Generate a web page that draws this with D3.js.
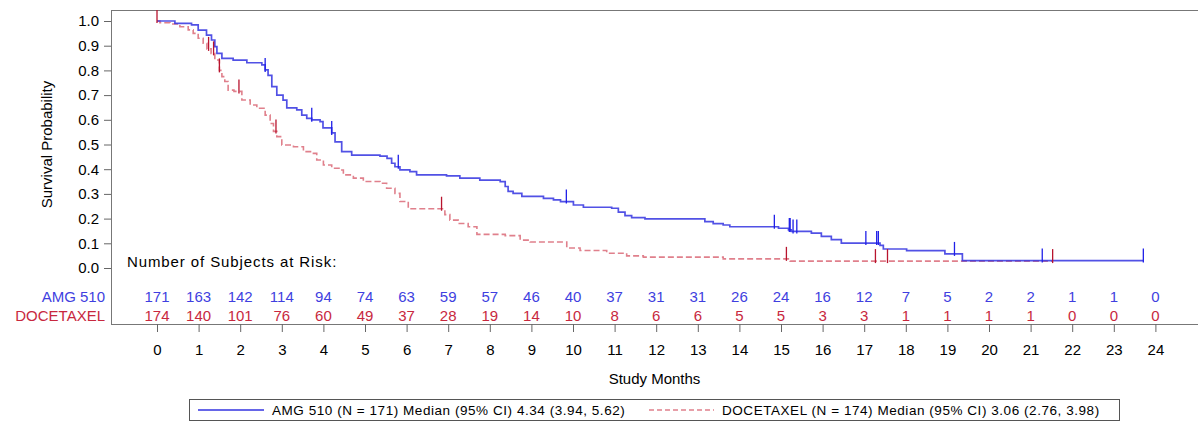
<!DOCTYPE html>
<html lang="en">
<head>
<meta charset="UTF-8">
<title>Kaplan-Meier</title>
<script src="https://d3js.org/d3.v7.min.js"></script>
<style>
    body, html {
        margin: 0;
        background: #fff;
        font-family: 'Liberation Sans', Arial, sans-serif;
    }
    .axis text { font-size: 15px; fill: #000; }
    .axis line { stroke: #666; }
    .legend-text { font-size: 13.5px; letter-spacing: 0.55px; }
</style>
</head>
<body>
<svg id="chart" width="1198" height="423"></svg>
<script>
    // step times (months) and survival after each step
    const amgTimes = [0, 0.43, 0.83, 0.99, 1.19, 1.31, 1.39, 1.44, 1.56, 1.83, 2.16, 2.52, 2.60, 2.67, 2.76, 2.88,
        3.03, 3.12, 3.36, 3.48, 3.60, 3.72, 3.92, 3.99, 4.20, 4.28, 4.44, 4.68, 5.36, 5.53, 5.64, 5.72, 5.84,
        6.08, 6.24, 6.96, 7.28, 7.76, 8.25, 8.37, 8.44, 8.56, 8.77, 9.29, 9.53, 9.70, 10.01, 10.25, 10.93,
        11.09, 11.25, 11.41, 11.73, 13.17, 13.37, 13.61, 13.77, 14.94, 15.18, 15.25, 15.73, 15.97, 16.21,
        16.45, 17.38, 17.46, 18.02, 18.94, 19.36];
    const amgSurv = [1.0, 0.99, 0.984, 0.963, 0.943, 0.923, 0.896, 0.869, 0.849, 0.842, 0.831, 0.822, 0.802, 0.78, 0.734, 0.70,
        0.68, 0.648, 0.64, 0.619, 0.606, 0.60, 0.593, 0.567, 0.547, 0.511, 0.471, 0.457, 0.453, 0.444, 0.424, 0.41, 0.397,
        0.39, 0.377, 0.373, 0.364, 0.356, 0.35, 0.33, 0.31, 0.302, 0.29, 0.282, 0.276, 0.269, 0.255, 0.246, 0.242,
        0.226, 0.212, 0.204, 0.199, 0.188, 0.18, 0.174, 0.167, 0.161, 0.154, 0.148, 0.141, 0.128, 0.115,
        0.101, 0.092, 0.077, 0.07, 0.057, 0.03];
    const amgCensor = [2.60, 3.72, 4.20, 5.80, 9.84, 14.84, 15.20, 15.22, 15.29, 15.38, 17.04, 17.30, 17.34, 19.17, 21.28, 23.71];

    const doceTimes = [0, 0.07, 0.31, 0.55, 0.75, 0.87, 0.99, 1.11, 1.20, 1.30, 1.39, 1.50, 1.56, 1.63, 1.71, 1.85,
        2.04, 2.24, 2.40, 2.60, 2.72, 2.80, 2.88, 3.00, 3.28, 3.52, 3.76, 3.84, 4.00, 4.20, 4.40, 4.48, 4.72, 4.96,
        5.36, 5.52, 5.72, 5.84, 6.04, 6.92, 7.04, 7.24, 7.48, 7.69, 8.37, 8.73, 8.97, 9.85, 10.17, 10.81, 11.29,
        11.69, 13.61, 15.22];
    const doceSurv = [1.0, 0.993, 0.988, 0.977, 0.964, 0.95, 0.93, 0.91, 0.887, 0.869, 0.842, 0.80, 0.775, 0.755, 0.72, 0.715,
        0.68, 0.66, 0.647, 0.619, 0.585, 0.553, 0.532, 0.498, 0.491, 0.471, 0.464, 0.437, 0.417, 0.404, 0.397, 0.377, 0.364, 0.35,
        0.343, 0.323, 0.302, 0.269, 0.24, 0.216, 0.194, 0.18, 0.167, 0.136, 0.131, 0.113, 0.105, 0.081, 0.071, 0.06, 0.049,
        0.044, 0.037, 0.028];
    const doceCensor = [0, 1.24, 1.36, 1.50, 1.97, 2.86, 6.84, 15.13, 17.27, 17.56, 21.53];

    const riskMonths = d3.range(0, 25);
    const amgRisk = [171, 163, 142, 114, 94, 74, 63, 59, 57, 46, 40, 37, 31, 31, 26, 24, 16, 12, 7, 5, 2, 2, 1, 1, 0];
    const doceRisk = [174, 140, 101, 76, 60, 49, 37, 28, 19, 14, 10, 8, 6, 6, 5, 5, 3, 3, 1, 1, 1, 1, 0, 0, 0];
    const yTicks = d3.range(0, 11).map(d => d / 10);

    const blue = "#3333e0";
    const blueText = "#3f3fe0";
    const redLine = "#e0808c";
    const redMark = "#b8142e";
    const redText = "#c8283e";

    const svg = d3.select("#chart");
    const x = d3.scaleLinear().domain([0, 24]).range([157, 1155.4]);
    const y = d3.scaleLinear().domain([0, 1]).range([268, 21]);
    const plotLeft = 111, plotTop = 10, axisY = 324, plotRight = 1198;

    // frame
    svg.append("line").attr("x1", plotLeft).attr("x2", plotRight).attr("y1", plotTop + 0.5).attr("y2", plotTop + 0.5)
        .attr("stroke", "#777");
    svg.append("line").attr("x1", plotLeft + 0.5).attr("x2", plotLeft + 0.5).attr("y1", plotTop).attr("y2", axisY)
        .attr("stroke", "#777");
    svg.append("line").attr("x1", plotLeft).attr("x2", plotRight).attr("y1", axisY + 0.5).attr("y2", axisY + 0.5)
        .attr("stroke", "#777");

    // y axis
    const yAxis = svg.append("g").attr("class", "axis")
        .attr("transform", `translate(${plotLeft},0)`)
        .call(d3.axisLeft(y).tickValues(yTicks).tickFormat(d3.format(".1f")).tickSize(7).tickPadding(5));
    yAxis.select(".domain").remove();

    // x axis
    const xAxis = svg.append("g").attr("class", "axis")
        .attr("transform", `translate(0,${axisY})`)
        .call(d3.axisBottom(x).tickValues(riskMonths).tickFormat(d3.format("d")).tickSize(8).tickPadding(12));
    xAxis.select(".domain").remove();

    svg.append("text")
        .attr("transform", `translate(52,${(y(0) + y(1)) / 2}) rotate(-90)`)
        .attr("text-anchor", "middle")
        .style("font-size", "15px")
        .text("Survival Probability");

    svg.append("text")
        .attr("x", (plotLeft + plotRight) / 2).attr("y", 384)
        .attr("text-anchor", "middle")
        .style("font-size", "15px")
        .text("Study Months");

    // curves
    function points(times, surv, end) {
        const pts = times.map((t, i) => [t, surv[i]]);
        pts.push([end, surv[surv.length - 1]]);
        return pts;
    }
    function survAt(times, surv, t) {
        let v = surv[0];
        for (let i = 0; i < times.length; i++) if (times[i] <= t) v = surv[i];
        return v;
    }
    const line = d3.line().x(d => x(d[0])).y(d => y(d[1])).curve(d3.curveStepAfter);

    svg.append("path")
        .attr("d", line(points(doceTimes, doceSurv, d3.max(doceCensor))))
        .attr("fill", "none").attr("stroke", redLine).attr("stroke-width", 1.6)
        .attr("stroke-dasharray", "6,3");

    svg.append("path")
        .attr("d", line(points(amgTimes, amgSurv, d3.max(amgCensor))))
        .attr("fill", "none").attr("stroke", blue).attr("stroke-width", 1.7).attr("stroke-opacity", 0.85);

    svg.selectAll(".cens-amg").data(amgCensor).enter().append("line")
        .attr("class", "cens-amg")
        .attr("x1", d => x(d)).attr("x2", d => x(d))
        .attr("y1", d => y(survAt(amgTimes, amgSurv, d)) - 12)
        .attr("y2", d => y(survAt(amgTimes, amgSurv, d)) + 2)
        .attr("stroke", "#2020e8").attr("stroke-width", 1.3);

    svg.selectAll(".cens-doce").data(doceCensor).enter().append("line")
        .attr("class", "cens-doce")
        .attr("x1", d => x(d)).attr("x2", d => x(d))
        .attr("y1", d => Math.max(plotTop, y(survAt(doceTimes, doceSurv, d)) - 12))
        .attr("y2", d => y(survAt(doceTimes, doceSurv, d)) + 2)
        .attr("stroke", redMark).attr("stroke-width", 1.3);

    // risk table
    svg.append("text")
        .attr("x", 127).attr("y", 267)
        .style("font-size", "15px").style("letter-spacing", "0.9px")
        .text("Number of Subjects at Risk:");

    const rows = [
        {label: "AMG 510", values: amgRisk, color: blueText, yPos: 302},
        {label: "DOCETAXEL", values: doceRisk, color: redText, yPos: 321}
    ];
    rows.forEach(r => {
        svg.append("text")
            .attr("x", 105).attr("y", r.yPos)
            .attr("text-anchor", "end")
            .attr("fill", r.color)
            .style("font-size", "15px")
            .text(r.label);
        svg.selectAll(null).data(r.values).enter().append("text")
            .attr("x", (d, i) => x(riskMonths[i]))
            .attr("y", r.yPos)
            .attr("text-anchor", "middle")
            .attr("fill", r.color)
            .style("font-size", "15px")
            .text(d => d);
    });

    // legend
    const lg = svg.append("g");
    lg.append("rect")
        .attr("x", 189.5).attr("y", 399.5).attr("width", 930).attr("height", 21)
        .attr("fill", "#fff").attr("stroke", "#555");
    lg.append("line").attr("x1", 198).attr("x2", 264).attr("y1", 410).attr("y2", 410)
        .attr("stroke", blue).attr("stroke-width", 1.5);
    lg.append("text").attr("class", "legend-text").attr("x", 272).attr("y", 415)
        .text("AMG 510 (N = 171) Median (95% CI) 4.34 (3.94, 5.62)");
    lg.append("line").attr("x1", 649).attr("x2", 714).attr("y1", 410).attr("y2", 410)
        .attr("stroke", redLine).attr("stroke-width", 1.5).attr("stroke-dasharray", "5,3");
    lg.append("text").attr("class", "legend-text").attr("x", 722).attr("y", 415)
        .text("DOCETAXEL (N = 174) Median (95% CI) 3.06 (2.76, 3.98)");
</script>
</body>
</html>
